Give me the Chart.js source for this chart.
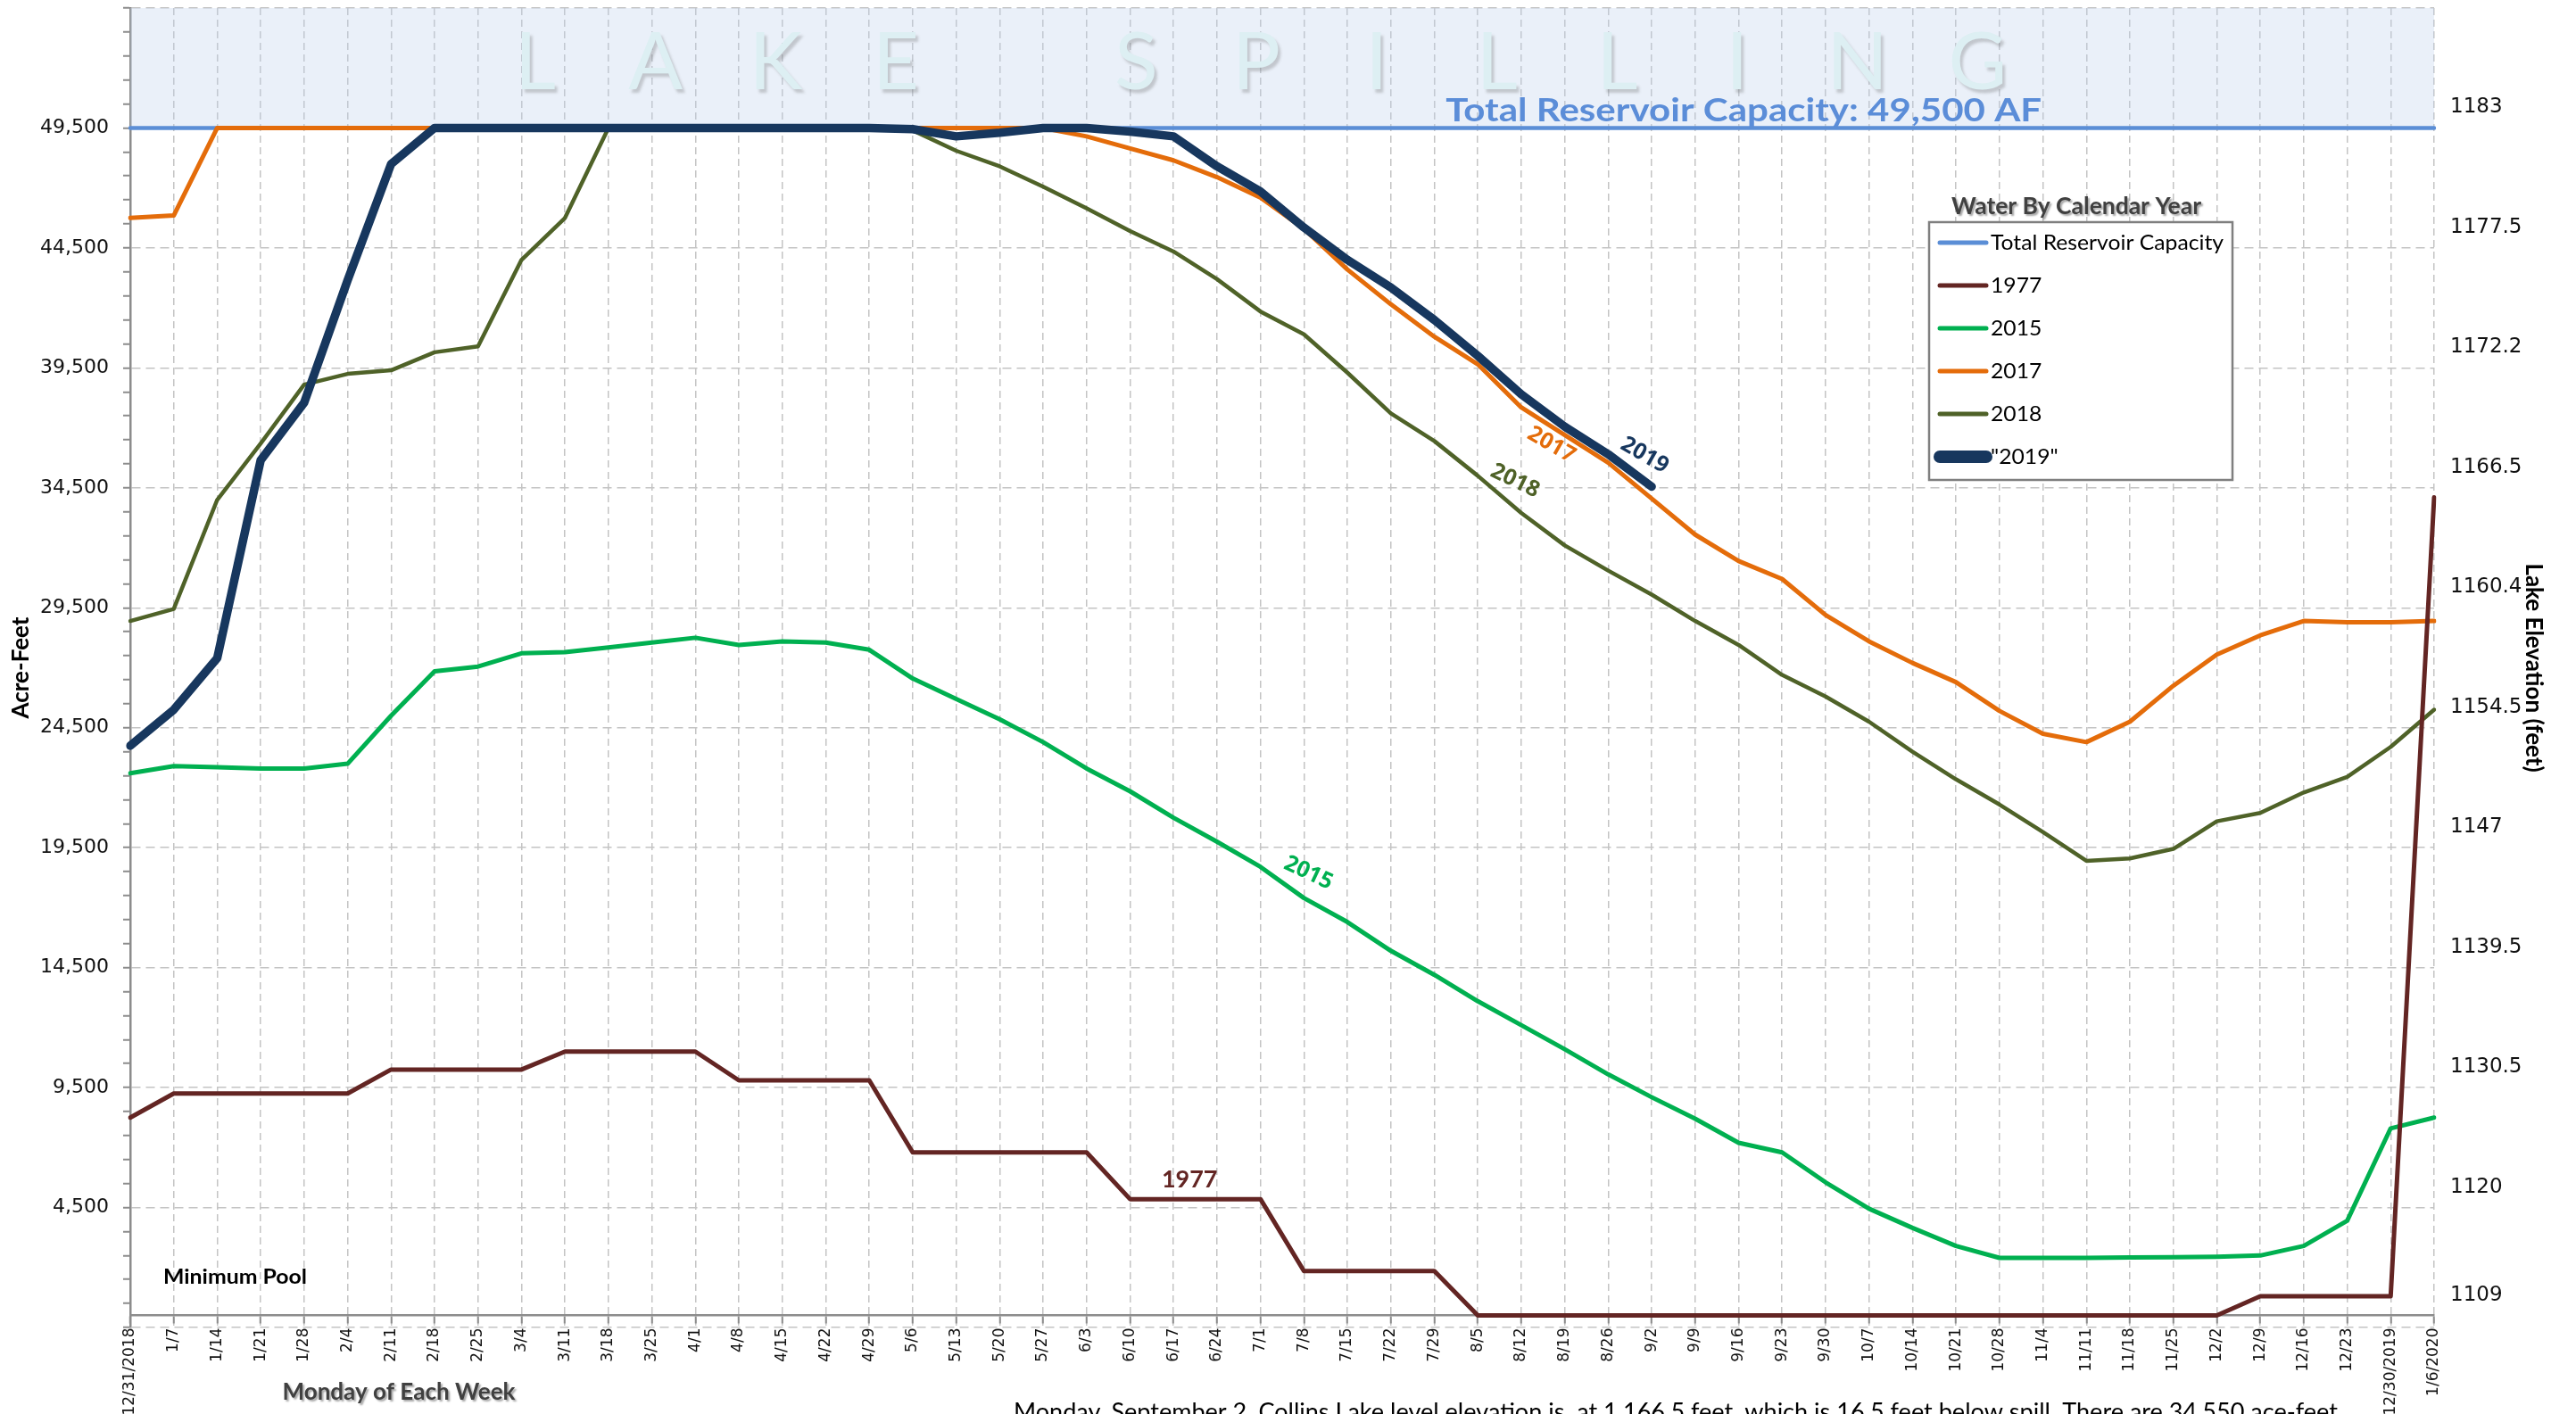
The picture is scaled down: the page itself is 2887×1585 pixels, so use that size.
<!DOCTYPE html>
<html>
<head>
<meta charset="utf-8">
<title>Lake Spilling</title>
<script src="https://cdn.jsdelivr.net/npm/chart.js@4.4.1/dist/chart.umd.min.js"></script>
<style>
  html, body { margin: 0; padding: 0; background: #fff; overflow: hidden; }
  #wrap { width: 2887px; height: 1585px; position: relative; }
</style>
</head>
<body>
<div id="wrap"><canvas id="chart"></canvas></div>
<script>
// Monday of each week
const weeks = ['12/31/2018','1/7','1/14','1/21','1/28','2/4','2/11','2/18','2/25','3/4','3/11','3/18','3/25',
  '4/1','4/8','4/15','4/22','4/29','5/6','5/13','5/20','5/27','6/3','6/10','6/17','6/24','7/1','7/8','7/15',
  '7/22','7/29','8/5','8/12','8/19','8/26','9/2','9/9','9/16','9/23','9/30','10/7','10/14','10/21','10/28',
  '11/4','11/11','11/18','11/25','12/2','12/9','12/16','12/23','12/30/2019','1/6/2020'];

// acre-feet
const capacity = [49500,49500,49500,49500,49500,49500,49500,49500,49500,49500,49500,49500,49500,49500,
  49500,49500,49500,49500,49500,49500,49500,49500,49500,49500,49500,49500,49500,49500,49500,49500,49500,
  49500,49500,49500,49500,49500,49500,49500,49500,49500,49500,49500,49500,49500,49500,49500,49500,49500,
  49500,49500,49500,49500,49500,49500];
const y1977 = [8250,9250,9250,9250,9250,9250,10250,10250,10250,10250,11000,11000,11000,11000,9800,9800,
  9800,9800,6800,6800,6800,6800,6800,4850,4850,4850,4850,1850,1850,1850,1850,0,0,0,0,0,0,0,0,0,0,0,0,0,0,
  0,0,0,0,800,800,800,800,34100];
const y2015 = [22600,22900,22850,22800,22800,23000,25000,26850,27050,27600,27650,27850,28050,28250,27950,
  28100,28050,27750,26550,25700,24850,23900,22800,21850,20750,19750,18700,17400,16400,15200,14200,13100,
  12100,11100,10050,9100,8200,7200,6800,5550,4450,3650,2900,2400,2400,2400,2420,2430,2450,2500,2900,3950,
  7800,8250];
const y2017 = [45750,45850,49500,49500,49500,49500,49500,49500,49500,49500,49500,49500,49500,49500,49500,
  49500,49500,49500,49500,49500,49500,49500,49150,48650,48150,47450,46600,45300,43600,42150,40800,39650,
  37850,36700,35550,34050,32550,31450,30700,29200,28100,27200,26400,25200,24250,23900,24750,26250,27550,
  28350,28950,28900,28900,28950];
const y2018 = [28950,29450,34000,36350,38800,39250,39400,40150,40400,44000,45750,49500,49500,49500,49500,
  49500,49500,49500,49400,48550,47900,47050,46150,45200,44350,43200,41850,40900,39300,37600,36450,35000,
  33450,32100,31050,30050,28950,27950,26700,25800,24750,23500,22350,21300,20150,18950,19050,19450,20600,
  20950,21800,22450,23700,25250];
const y2019 = [23750,25250,27400,35650,38050,43150,48000,49500,49500,49500,49500,49500,49500,49500,49500,
  49500,49500,49500,49450,49150,49300,49500,49500,49350,49150,47900,46850,45350,44000,42850,41500,40000,
  38400,37050,35900,34550,null,null,null,null,null,null,null,null,null,null,null,null,null,null,null,null,
  null,null];

// right axis: lake elevation (feet)
const elevTickValues = [0,4500,9500,14500,19500,24500,29500,34500,39500,44500,49500];
const elevTickLabels = ['1109','1120','1130.5','1139.5','1147','1154.5','1160.4','1166.5','1172.2','1177.5','1183'];

const note = 'Monday, September 2, Collins Lake level elevation is  at 1,166.5 feet, which is 16.5 feet below spill. There are 34,550 ace-feet';

// labels written on the lines: dataset index, point index, offset, rotation
const tags = [
  { ds: 5, i: 35, text: '2019', dx: -8, dy: -35, rot: 30 },
  { ds: 3, i: 33, text: '2017', dx: -15, dy: 11, rot: 30 },
  { ds: 4, i: 32, text: '2018', dx: -7, dy: -36, rot: 26 },
  { ds: 2, i: 27, text: '2015', dx: 5, dy: -28, rot: 25 },
];

function fitText(ctx, text, x, y, width, align) {
  const w = ctx.measureText(text).width;
  const k = width ? width / w : 1;
  ctx.save();
  ctx.translate(x, y);
  ctx.scale(k, 1);
  ctx.textAlign = align || 'center';
  ctx.fillText(text, 0, 0);
  ctx.restore();
}

const decor = {
  id: 'decor',
  afterDatasetsDraw(chart) {
    const { ctx, chartArea: a } = chart;
    const y = chart.scales.y;

    // watermark
    ctx.save();
    ctx.font = '90px Lato';
    ctx.fillStyle = '#DDEFF3';
    ctx.shadowColor = 'rgba(90,90,90,0.28)';
    ctx.shadowOffsetX = 3; ctx.shadowOffsetY = 4; ctx.shadowBlur = 3;
    ctx.textAlign = 'center'; ctx.textBaseline = 'alphabetic';
    const step = a.width * 0.05217, x0 = a.left + a.width * 0.1758;
    [...'LAKE SPILLING'].forEach((ch, i) => {
      if (ch !== ' ') ctx.fillText(ch, x0 + i * step, a.top + 91);
    });
    ctx.restore();

    // capacity caption
    ctx.save();
    ctx.font = 'bold 37px Lato';
    ctx.fillStyle = '#5B8DD8';
    ctx.textBaseline = 'alphabetic';
    fitText(ctx, 'Total Reservoir Capacity: 49,500 AF', a.left + a.width * 0.7003, y.getPixelForValue(49500) - 7, 668);
    ctx.restore();

    // line labels
    tags.forEach(t => {
      const ds = chart.data.datasets[t.ds];
      const pt = chart.getDatasetMeta(t.ds).data[t.i];
      ctx.save();
      ctx.translate(pt.x + t.dx, pt.y + t.dy);
      ctx.rotate(t.rot * Math.PI / 180);
      ctx.font = 'bold 25px "Open Sans"';
      ctx.fillStyle = ds.borderColor;
      ctx.textAlign = 'center'; ctx.textBaseline = 'middle';
      ctx.fillText(t.text, 0, 0);
      ctx.restore();
    });
    const p77 = chart.getDatasetMeta(1).data[24];
    ctx.save();
    ctx.font = 'bold 27px Lato';
    ctx.fillStyle = chart.data.datasets[1].borderColor;
    ctx.textAlign = 'center'; ctx.textBaseline = 'middle';
    ctx.fillText('1977', p77.x + 18, p77.y - 22);
    ctx.restore();

    // minimum pool
    ctx.save();
    ctx.font = 'bold 22px Lato';
    ctx.fillStyle = '#000';
    ctx.textBaseline = 'middle';
    fitText(ctx, 'Minimum Pool', a.left + 37, y.getPixelForValue(0) - 43, 161, 'left');
    ctx.restore();
  },
  afterDraw(chart) {
    const { ctx } = chart;

    // legend
    const box = { x: 2162, y: 249, w: 340, h: 289 };
    ctx.save();
    ctx.fillStyle = '#fff';
    ctx.fillRect(box.x, box.y, box.w, box.h);
    ctx.strokeStyle = '#7F7F7F';
    ctx.lineWidth = 2.5;
    ctx.strokeRect(box.x, box.y, box.w, box.h);
    ctx.font = 'bold 26px Lato';
    ctx.fillStyle = '#404040';
    ctx.shadowColor = 'rgba(0,0,0,0.35)';
    ctx.shadowOffsetX = 2; ctx.shadowOffsetY = 2; ctx.shadowBlur = 2;
    ctx.textBaseline = 'middle';
    fitText(ctx, 'Water By Calendar Year', box.x + 165, box.y - 17, 280);
    ctx.restore();

    ctx.save();
    ctx.font = '24px Lato';
    const k = 261 / ctx.measureText('Total Reservoir Capacity').width;
    ctx.textBaseline = 'middle';
    chart.data.datasets.forEach((ds, i) => {
      const ly = box.y + 23 + i * 48;
      ctx.strokeStyle = ds.borderColor;
      ctx.lineWidth = i === 5 ? 14 : 5;
      ctx.lineCap = 'round';
      ctx.beginPath();
      ctx.moveTo(box.x + 12, ly);
      ctx.lineTo(box.x + 64, ly);
      ctx.stroke();
      ctx.fillStyle = '#000';
      const w = ctx.measureText(ds.label).width * k;
      fitText(ctx, ds.label, box.x + 69, ly, w, 'left');
    });
    ctx.restore();

    // x axis caption
    ctx.save();
    ctx.font = 'bold 26px Lato';
    ctx.fillStyle = '#404040';
    ctx.shadowColor = 'rgba(0,0,0,0.35)';
    ctx.shadowOffsetX = 2; ctx.shadowOffsetY = 2; ctx.shadowBlur = 2;
    ctx.textBaseline = 'middle';
    fitText(ctx, 'Monday of Each Week', 447, 1561, 261);
    ctx.restore();

    // status line, cut by the bottom edge
    ctx.save();
    ctx.font = '27px Lato';
    ctx.fillStyle = '#000';
    ctx.textBaseline = 'alphabetic';
    fitText(ctx, note, 1136, 1592, 1484, 'left');
    ctx.restore();
  }
};

const line = (label, data, color, width, order, extra) => Object.assign({
  label, data, borderColor: color, backgroundColor: color, borderWidth: width,
  pointRadius: 0, tension: 0, fill: false, order,
  borderJoinStyle: 'round', borderCapStyle: 'round', spanGaps: false
}, extra || {});

const isMajor = v => (v + 500) % 5000 === 0;

// keep the plot box where the reference has it: no extra room for label overhang
const noOverhang = s => { s.paddingTop = 0; s.paddingBottom = 0; s.paddingLeft = 0; s.paddingRight = 0; };

new Chart(document.getElementById('chart'), {
  type: 'line',
  data: {
    labels: weeks,
    datasets: [
      line('Total Reservoir Capacity', capacity, '#5B8ED6', 4.5, 5,
        { fill: 'end', backgroundColor: 'rgba(190,207,236,0.32)' }),
      line('1977', y1977, '#632523', 5, 1),
      line('2015', y2015, '#00B050', 5, 4),
      line('2017', y2017, '#E46C0A', 5, 2),
      line('2018', y2018, '#4F6228', 4.5, 3),
      line('"2019"', y2019, '#17375E', 9.5, 0),
    ]
  },
  options: {
    responsive: true,
    maintainAspectRatio: false,
    devicePixelRatio: 1,
    animation: false,
    layout: { padding: { top: 9, bottom: 97, left: 0, right: 0 } },
    plugins: { legend: { display: false }, tooltip: { enabled: false } },
    scales: {
      x: {
        position: { y: 0 },
        afterFit: noOverhang,
        grid: { color: '#C4C4C4', lineWidth: 1.5, tickColor: '#8C8C8C', tickLength: 8, tickWidth: 2 },
        border: { color: '#8C8C8C', width: 2.5, dash: [8, 5] },
        ticks: {
          autoSkip: false, maxRotation: 90, minRotation: 90, padding: 6,
          color: '#111', font: { family: 'DejaVu Sans', size: 17 }
        }
      },
      y: {
        position: 'left',
        min: -500, max: 54500,
        afterFit: s => { noOverhang(s); s.width = 146; },
        grid: {
          color: c => isMajor(c.tick.value) ? '#C4C4C4' : 'rgba(0,0,0,0)',
          lineWidth: 1.5, tickColor: '#8C8C8C', tickLength: 8, tickWidth: 2
        },
        border: { color: '#8C8C8C', width: 2.5, dash: [10, 6] },
        ticks: {
          stepSize: 1000, autoSkip: false, padding: 16, color: '#111',
          font: { family: 'DejaVu Sans', size: 22 },
          callback: v => (isMajor(v) && v >= 4500 && v <= 49500) ? v.toLocaleString('en-US') : ''
        },
        title: {
          display: true, text: 'Acre-Feet', color: '#000',
          font: { family: 'Lato', weight: 'bold', size: 26 }, padding: { top: 8, bottom: 0 }
        }
      },
      y2: {
        position: 'right',
        min: -500, max: 54500,
        afterFit: s => { noOverhang(s); s.width = 159; },
        afterBuildTicks: s => { s.ticks = elevTickValues.map(v => ({ value: v })); },
        grid: { display: false },
        border: { display: false },
        ticks: {
          autoSkip: false, padding: 10, labelOffset: -23, color: '#111',
          font: { family: 'DejaVu Sans', size: 23 },
          callback: (v, i) => elevTickLabels[i]
        },
        title: {
          display: true, text: 'Lake Elevation (feet)', color: '#000',
          font: { family: 'Lato', weight: 'bold', size: 26 }, padding: { top: 32, bottom: 0 }
        }
      }
    }
  },
  plugins: [decor]
});
</script>
</body>
</html>
